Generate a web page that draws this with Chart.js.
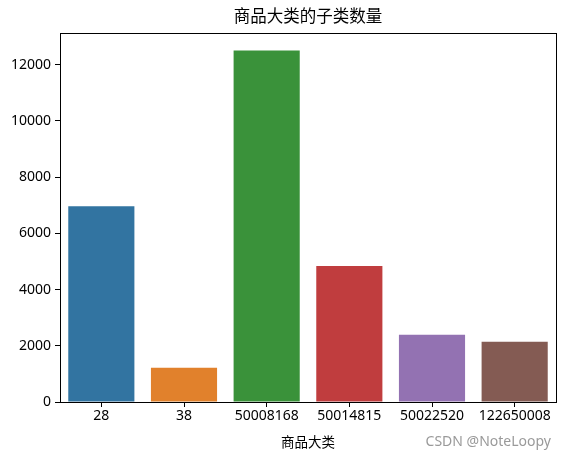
<!DOCTYPE html>
<html>
<head>
<meta charset="utf-8">
<script src="https://cdn.jsdelivr.net/npm/chart.js@4"></script>
<style>
  html, body { margin: 0; padding: 0; background: #fff; }
  #wrap { width: 566px; height: 459px; }
</style>
</head>
<body>
<div id="wrap"><canvas id="subChart" width="566" height="459"></canvas></div>
<script>
// 商品大类 -> 子类数量
const categories = ['28', '38', '50008168', '50014815', '50022520', '122650008'];
const subCounts = [6970, 1218, 12506, 4838, 2389, 2141];
const barColors = ['#3274a1', '#e1812c', '#3a923a', '#c03d3e', '#9372b2', '#845b53'];
const yTicks = [0, 2000, 4000, 6000, 8000, 10000, 12000];

const FONT = '"Noto Sans", "Noto Sans CJK SC", sans-serif';

// title, frame and watermark
const extras = {
    id: 'extras',
    afterDraw(chart) {
        const { ctx, chartArea } = chart;
        ctx.save();
        ctx.strokeStyle = '#000';
        ctx.lineWidth = 1;
        ctx.strokeRect(Math.round(chartArea.left) + 0.5, Math.round(chartArea.top) + 0.5,
            Math.round(chartArea.right - chartArea.left), Math.round(chartArea.bottom - chartArea.top));
        ctx.fillStyle = '#000';
        ctx.font = '16.5px ' + FONT;
        ctx.textAlign = 'center';
        ctx.textBaseline = 'middle';
        ctx.fillText('商品大类的子类数量', (chartArea.left + chartArea.right) / 2, 17);
        ctx.fillStyle = '#9a9a9a';
        ctx.font = '14px ' + FONT;
        ctx.textAlign = 'right';
        ctx.fillText('CSDN @NoteLoopy', 551, 442);
        ctx.restore();
    }
};

const ctx = document.getElementById('subChart').getContext('2d');
new Chart(ctx, {
    type: 'bar',
    data: {
        labels: categories,
        datasets: [{
            data: subCounts,
            backgroundColor: barColors,
            borderWidth: 0,
            categoryPercentage: 0.8,
            barPercentage: 1.0
        }]
    },
    options: {
        responsive: false,
        animation: false,
        layout: { padding: { left: 0, right: 10, top: 33, bottom: 0 } },
        plugins: {
            legend: { display: false },
            title: { display: false },
            tooltip: { enabled: false }
        },
        scales: {
            x: {
                grid: { display: true, offset: false, drawOnChartArea: false, drawTicks: true, tickLength: 5, color: '#000' },
                border: { display: true, color: '#000' },
                ticks: { color: '#000', font: { family: FONT, size: 14 }, padding: 1, maxRotation: 0 },
                title: { display: true, text: '商品大类', color: '#000', font: { family: FONT, size: 13.5 }, padding: { top: 0, bottom: 8 } },
                afterFit(scale) { scale.height = 57; }
            },
            y: {
                min: 0,
                max: 13131,
                grid: { display: true, drawOnChartArea: false, drawTicks: true, tickLength: 5, color: '#000' },
                border: { display: true, color: '#000' },
                ticks: { color: '#000', font: { family: FONT, size: 14 }, padding: 4, callback: v => String(v) },
                afterBuildTicks(scale) { scale.ticks = yTicks.map(v => ({ value: v })); },
                afterFit(scale) { scale.width = 60; }
            }
        }
    },
    plugins: [extras]
});
</script>
</body>
</html>
